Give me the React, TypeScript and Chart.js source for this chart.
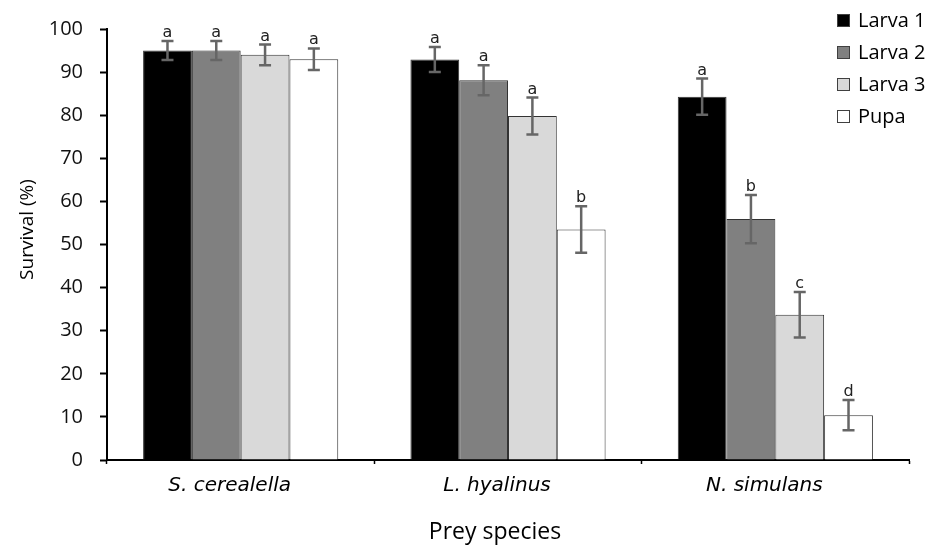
import { useEffect, useRef } from 'react';
import { Chart, registerables } from 'chart.js';

Chart.register(...registerables);

const categories = ['S. cerealella', 'L. hyalinus', 'N. simulans'];
const seriesNames = ['Larva 1', 'Larva 2', 'Larva 3', 'Pupa'];
const xTitle = 'Prey species';
const yTitle = 'Survival (%)';

const larva1 = [95, 92.9, 84.3];
const larva2 = [95, 88.1, 55.9];
const larva3 = [94, 79.8, 33.7];
const pupa = [93, 53.5, 10.4];

const larva1Err = [2.2, 2.9, 4.2];
const larva2Err = [2.2, 3.5, 5.6];
const larva3Err = [2.4, 4.3, 5.3];
const pupaErr = [2.5, 5.4, 3.5];

const larva1Letters = ['a', 'a', 'a'];
const larva2Letters = ['a', 'a', 'b'];
const larva3Letters = ['a', 'a', 'c'];
const pupaLetters = ['a', 'b', 'd'];

const yMin = 0;
const yMax = 100;
const yStep = 10;

const seriesValues = [larva1, larva2, larva3, pupa];
const seriesErrors = [larva1Err, larva2Err, larva3Err, pupaErr];
const seriesLetters = [larva1Letters, larva2Letters, larva3Letters, pupaLetters];
const fills = ['#000000', '#808080', '#d9d9d9', '#ffffff'];

const errorBarPlugin = {
  id: 'errorBars',
  afterDatasetsDraw(chart: any) {
    const ctx = chart.ctx;
    const yScale = chart.scales.y;
    ctx.save();
    chart.data.datasets.forEach((ds: any, i: number) => {
      const meta = chart.getDatasetMeta(i);
      meta.data.forEach((bar: any, j: number) => {
        const v = ds.data[j];
        const e = seriesErrors[i][j];
        const x = bar.x;
        const yTop = yScale.getPixelForValue(v + e);
        const yBot = yScale.getPixelForValue(v - e);
        ctx.strokeStyle = '#666666';
        ctx.lineWidth = 2.5;
        ctx.beginPath();
        ctx.moveTo(x, yTop);
        ctx.lineTo(x, yBot);
        ctx.moveTo(x - 6, yTop);
        ctx.lineTo(x + 6, yTop);
        ctx.moveTo(x - 6, yBot);
        ctx.lineTo(x + 6, yBot);
        ctx.stroke();
        ctx.fillStyle = '#222222';
        ctx.font = '16px "DejaVu Sans"';
        ctx.textAlign = 'center';
        ctx.textBaseline = 'alphabetic';
        ctx.fillText(seriesLetters[i][j], x, yTop - 4);
      });
    });
    ctx.restore();
  },
};

const titlesPlugin = {
  id: 'axisTitles',
  afterDraw(chart: any) {
    const ctx = chart.ctx;
    const area = chart.chartArea;
    ctx.save();
    ctx.fillStyle = '#000000';
    ctx.textAlign = 'center';
    ctx.textBaseline = 'alphabetic';
    ctx.font = '23px "Open Sans"';
    ctx.fillText(xTitle, (area.left + area.right) / 2 - 13, 539);
    ctx.translate(33, (area.top + area.bottom) / 2 - 15);
    ctx.rotate(-Math.PI / 2);
    ctx.font = '19px "Open Sans"';
    ctx.fillText(yTitle, 0, 0);
    ctx.restore();
  },
};

const legendPlugin = {
  id: 'customLegend',
  afterDraw(chart: any) {
    const ctx = chart.ctx;
    ctx.save();
    const x0 = 837;
    const y0 = 20;
    const rowH = 32;
    chart.data.datasets.forEach((ds: any, i: number) => {
      const cy = y0 + i * rowH;
      ctx.fillStyle = ds.backgroundColor;
      ctx.fillRect(x0, cy - 6, 12, 12);
      ctx.strokeStyle = '#404040';
      ctx.lineWidth = 1;
      ctx.strokeRect(x0 + 0.5, cy - 5.5, 12, 12);
      ctx.fillStyle = '#000000';
      ctx.font = '20px "Open Sans"';
      ctx.textAlign = 'left';
      ctx.textBaseline = 'middle';
      ctx.fillText(ds.label, x0 + 21, cy + 1);
    });
    ctx.restore();
  },
};

export default function App() {
  const ref = useRef<HTMLCanvasElement | null>(null);
  useEffect(() => {
    document.body.style.margin = '0';
    if (!ref.current) return;
    const chart = new Chart(ref.current, {
      type: 'bar',
      data: {
        labels: categories,
        datasets: seriesNames.map((name, i) => ({
          label: name,
          data: seriesValues[i],
          backgroundColor: fills[i],
          borderColor: '#333333',
          borderWidth: 1,
          categoryPercentage: 0.73,
          barPercentage: 1.0,
        })),
      },
      options: {
        responsive: false,
        animation: false,
        devicePixelRatio: 1,
        layout: { padding: { top: 21, right: 21, left: 0, bottom: 0 } },
        plugins: {
          legend: { display: false },
          tooltip: { enabled: false },
        },
        scales: {
          x: {
            grid: {
              display: true,
              drawOnChartArea: false,
              drawTicks: true,
              tickLength: 4,
              tickWidth: 1.5,
              tickColor: '#000000',
              offset: true,
            },
            border: { display: true, color: '#000000', width: 2 },
            ticks: {
              color: '#000000',
              font: { family: 'DejaVu Sans', size: 20, style: 'italic' },
              padding: 10,
              labelOffset: -11,
            },
            title: { display: false },
            afterFit: (s: any) => {
              s.height = 85;
            },
          },
          y: {
            min: yMin,
            max: yMax,
            grid: {
              display: true,
              drawOnChartArea: false,
              drawTicks: true,
              tickLength: 7,
              tickWidth: 2,
              tickColor: '#000000',
            },
            border: { display: true, color: '#000000', width: 2 },
            ticks: {
              stepSize: yStep,
              color: '#111111',
              font: { family: 'Open Sans', size: 20 },
              padding: 17,
            },
            title: { display: false },
            afterFit: (s: any) => {
              s.width = 107;
            },
          },
        },
      },
      plugins: [errorBarPlugin, titlesPlugin, legendPlugin],
    });
    return () => chart.destroy();
  }, []);
  return (
    <div style={{ width: 930, height: 545 }}>
      <canvas ref={ref} width={930} height={545} />
    </div>
  );
}
